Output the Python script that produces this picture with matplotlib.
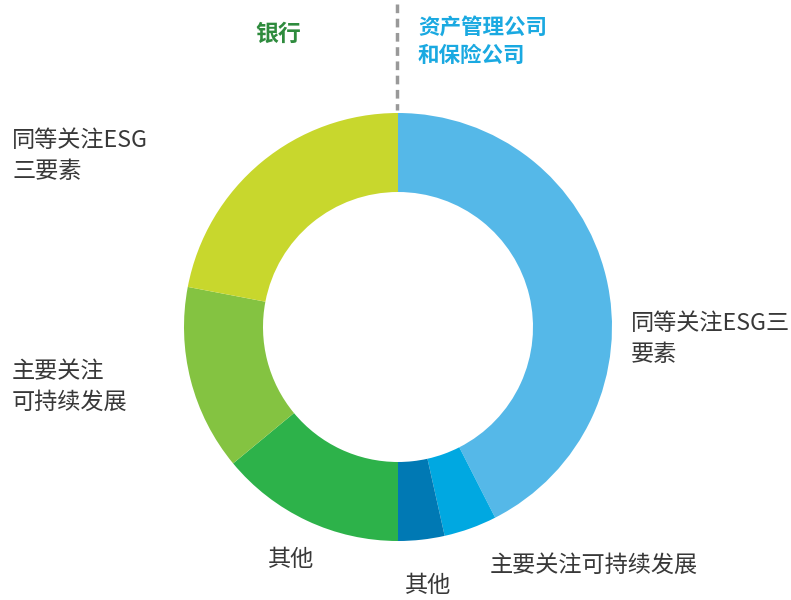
import matplotlib
matplotlib.use("Agg")
import matplotlib.pyplot as plt

plt.rcParams['font.family'] = ['Noto Sans CJK SC', 'DejaVu Sans']

# parts du donut, dans le sens horaire depuis le haut (chaque moitié = 50)
segments = ['资管 同等关注ESG三要素', '资管 主要关注可持续发展', '资管 其他',
            '银行 其他', '银行 主要关注可持续发展', '银行 同等关注ESG三要素']
valeurs = [42.5, 4.0, 3.5, 14.0, 14.0, 22.0]
couleurs = ['#55b8e8', '#00a8e1', '#0079b4', '#2db24a', '#84c341', '#c8d72d']

# étiquettes : texte, x, y (pixels, y du haut)
etiquettes = [
    ('同等关注ESG\n三要素', 12, 156),
    ('主要关注\n可持续发展', 12, 387),
    ('其他', 268, 560),
    ('其他', 405, 585),
    ('主要关注可持续发展', 490, 565),
    ('同等关注ESG三\n要素', 631, 339),
]

W, H = 791, 600
fig = plt.figure(figsize=(W / 100, H / 100), dpi=100)
ax = fig.add_axes([0, 0, 1, 1])

cx, cy = 398, H - 327
R, r = 214, 135
ax.pie(valeurs, colors=couleurs, startangle=90, counterclock=False,
       center=(cx, cy), radius=R, frame=True,
       wedgeprops=dict(width=R - r, linewidth=0))
ax.set_xlim(0, W)
ax.set_ylim(0, H)
ax.set_aspect('equal')
ax.axis('off')

for txt, x, y in etiquettes:
    ax.text(x, H - y, txt, fontsize=16.7, color='#383838', ha='left', va='center',
            linespacing=1.4)

# titres des deux moitiés
ax.text(255, H - 34, '银行', fontsize=16.5, fontweight='bold', color='#2e8b3d',
        ha='left', va='center')
ax.text(418, H - 41, '资产管理公司\n和保险公司', fontsize=15.5, fontweight='bold',
        color='#1aa9e1', ha='left', va='center', linespacing=1.45)

# ligne pointillée de séparation
ax.plot([397, 397], [H - 4, H - 110], color='#999999', lw=2.5,
        linestyle=(0, (2.5, 1.6)))

fig.savefig('out.png', dpi=100)
